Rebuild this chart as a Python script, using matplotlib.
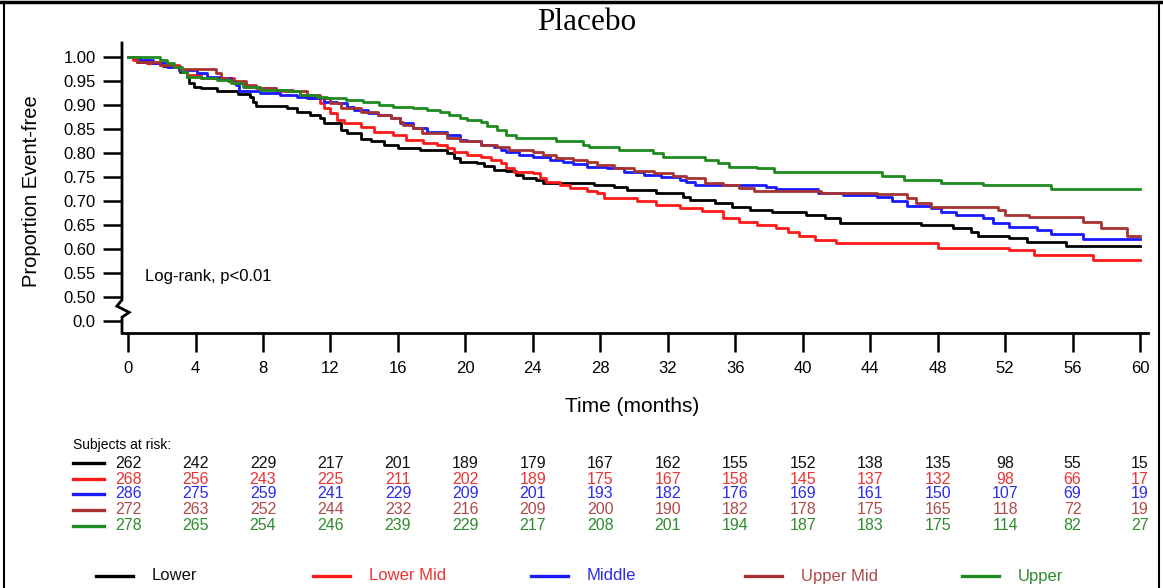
import numpy as np
import matplotlib
matplotlib.use("Agg")
import matplotlib.pyplot as plt
from matplotlib.lines import Line2D
import matplotlib.transforms as mtransforms

plt.rcParams['font.family'] = ['Liberation Sans', 'DejaVu Sans']

# Kaplan-Meier curves (time in months, proportion event-free)
lower_t = [0, 0.5, 1.1, 2.1, 3.1, 3.5, 3.6, 3.9, 4.3, 5.3, 6.5, 7.2, 7.4, 7.6, 9.4, 10.0, 10.8,
           11.4, 11.6, 12.6, 13.0, 13.8, 14.4, 15.2, 16.0, 17.3, 18.9, 19.3, 19.7, 20.7, 21.1,
           21.7, 22.4, 23.0, 23.4, 24.2, 24.6, 27.6, 28.8, 29.6, 31.3, 32.9, 33.3, 34.8, 35.8,
           36.9, 38.2, 40.2, 41.3, 42.2, 47.0, 48.9, 50.0, 50.4, 52.2, 53.3, 55.6, 60]
lower_s = [1.0, 0.99, 0.987, 0.982, 0.969, 0.958, 0.945, 0.938, 0.935, 0.928, 0.922, 0.917,
           0.907, 0.898, 0.893, 0.886, 0.879, 0.872, 0.862, 0.848, 0.841, 0.83, 0.824, 0.817,
           0.81, 0.806, 0.80, 0.789, 0.782, 0.779, 0.772, 0.765, 0.762, 0.754, 0.748, 0.744,
           0.738, 0.733, 0.729, 0.723, 0.716, 0.709, 0.702, 0.695, 0.688, 0.681, 0.676, 0.671,
           0.664, 0.655, 0.65, 0.643, 0.636, 0.626, 0.622, 0.615, 0.607, 0.607]

lowmid_t = [0, 0.3, 1.1, 1.9, 3.0, 3.5, 4.3, 6.3, 7.0, 7.8, 8.8, 10.2, 10.8, 11.4, 11.6, 12.0,
            12.4, 12.8, 13.8, 14.6, 15.7, 16.5, 17.5, 18.3, 18.9, 19.3, 20.1, 20.9, 21.5, 22.1,
            22.4, 22.9, 24.0, 24.4, 24.8, 25.6, 26.2, 27.2, 27.8, 28.2, 30.2, 31.3, 32.7, 34.0,
            35.3, 36.2, 37.3, 38.4, 39.1, 39.8, 40.7, 42.0, 48.0, 52.2, 53.7, 57.2, 60]
lowmid_s = [1.0, 0.994, 0.988, 0.983, 0.973, 0.963, 0.956, 0.945, 0.938, 0.935, 0.928, 0.921,
            0.914, 0.904, 0.893, 0.883, 0.869, 0.862, 0.855, 0.844, 0.838, 0.827, 0.821, 0.817,
            0.81, 0.803, 0.796, 0.792, 0.785, 0.779, 0.768, 0.761, 0.758, 0.747, 0.74, 0.733,
            0.726, 0.721, 0.716, 0.706, 0.699, 0.692, 0.685, 0.68, 0.664, 0.657, 0.65, 0.643,
            0.636, 0.626, 0.619, 0.612, 0.601, 0.598, 0.587, 0.577, 0.577]

middle_t = [0, 0.7, 1.5, 2.3, 3.0, 4.1, 4.7, 5.5, 6.1, 6.4, 6.6, 7.8, 9.0, 10.0, 10.6, 11.6,
            12.4, 13.0, 13.4, 14.2, 14.8, 15.6, 16.1, 16.9, 17.7, 18.9, 19.7, 20.1, 20.9, 21.7,
            22.1, 22.4, 23.2, 24.0, 25.0, 25.8, 26.4, 27.2, 28.4, 29.4, 30.6, 31.6, 32.7, 33.1,
            33.6, 37.8, 38.4, 40.9, 42.4, 44.4, 45.3, 46.2, 47.6, 48.2, 49.1, 50.7, 51.3, 52.2,
            53.9, 54.7, 56.6, 60]
middle_s = [1.0, 0.994, 0.987, 0.98, 0.973, 0.966, 0.959, 0.956, 0.949, 0.942, 0.928, 0.924,
            0.921, 0.917, 0.914, 0.907, 0.904, 0.896, 0.89, 0.883, 0.879, 0.872, 0.862, 0.851,
            0.844, 0.838, 0.827, 0.824, 0.817, 0.812, 0.806, 0.803, 0.796, 0.792, 0.785, 0.782,
            0.777, 0.771, 0.768, 0.761, 0.754, 0.75, 0.744, 0.74, 0.733, 0.73, 0.725, 0.717,
            0.7125, 0.708, 0.699, 0.69, 0.685, 0.678, 0.671, 0.664, 0.655, 0.646, 0.64, 0.631,
            0.62, 0.62]

upmid_t = [0, 0.5, 1.9, 2.7, 3.1, 5.2, 5.5, 5.9, 7.0, 7.6, 8.8, 9.8, 10.6, 11.4, 12.0, 12.6,
           13.8, 14.8, 15.6, 16.1, 16.3, 16.9, 17.4, 18.9, 19.7, 20.9, 21.9, 22.6, 24.0, 24.6,
           25.4, 26.4, 27.2, 27.8, 28.8, 30.0, 31.2, 32.3, 33.1, 34.2, 35.3, 36.2, 37.1, 41.1,
           44.4, 46.2, 46.7, 47.6, 51.6, 52.0, 53.4, 56.6, 57.7, 59.2, 60]
upmid_s = [1.0, 0.99, 0.983, 0.98, 0.975, 0.966, 0.956, 0.949, 0.942, 0.935, 0.931, 0.928,
           0.921, 0.914, 0.904, 0.893, 0.886, 0.879, 0.872, 0.865, 0.858, 0.851, 0.841, 0.831,
           0.824, 0.817, 0.812, 0.806, 0.803, 0.796, 0.789, 0.785, 0.782, 0.775, 0.768, 0.763,
           0.758, 0.752, 0.747, 0.738, 0.733, 0.726, 0.721, 0.716, 0.714, 0.706, 0.695, 0.688,
           0.681, 0.671, 0.667, 0.657, 0.643, 0.626, 0.626]

upper_t = [0, 1.9, 2.3, 2.7, 3.2, 3.5, 4.3, 5.3, 6.1, 6.8, 7.8, 9.4, 10.2, 11.2, 11.8, 12.9,
           13.9, 14.9, 15.7, 16.9, 17.7, 18.5, 19.0, 19.7, 20.1, 20.9, 21.3, 21.9, 22.4, 23.0,
           25.4, 27.0, 27.3, 29.1, 31.1, 31.7, 34.2, 35.0, 35.6, 37.3, 38.3, 44.7, 46.0, 48.2,
           50.7, 54.7, 60]
upper_s = [1.0, 0.994, 0.987, 0.98, 0.969, 0.959, 0.956, 0.952, 0.945, 0.938, 0.931, 0.928,
           0.921, 0.917, 0.914, 0.91, 0.907, 0.90, 0.896, 0.893, 0.89, 0.886, 0.879, 0.872,
           0.869, 0.865, 0.856, 0.848, 0.838, 0.831, 0.824, 0.817, 0.812, 0.806, 0.80, 0.792,
           0.785, 0.779, 0.771, 0.768, 0.76, 0.751, 0.744, 0.737, 0.733, 0.725, 0.725]

groups = ['Lower', 'Lower Mid', 'Middle', 'Upper Mid', 'Upper']
colors = ['#000000', '#ff1a1a', '#1a1aff', '#a83232', '#1f8a1f']
text_colors = ['#111111', '#e83535', '#2b2bee', '#b04a4a', '#2e8b2e']

risk_times = [0, 4, 8, 12, 16, 20, 24, 28, 32, 36, 40, 44, 48, 52, 56, 60]
at_risk_lower = [262, 242, 229, 217, 201, 189, 179, 167, 162, 155, 152, 138, 135, 98, 55, 15]
at_risk_lowmid = [268, 256, 243, 225, 211, 202, 189, 175, 167, 158, 145, 137, 132, 98, 66, 17]
at_risk_middle = [286, 275, 259, 241, 229, 209, 201, 193, 182, 176, 169, 161, 150, 107, 69, 19]
at_risk_upmid = [272, 263, 252, 244, 232, 216, 209, 200, 190, 182, 178, 175, 165, 118, 72, 19]
at_risk_upper = [278, 265, 254, 246, 239, 229, 217, 208, 201, 194, 187, 183, 175, 114, 82, 27]

curves = [(lower_t, lower_s), (lowmid_t, lowmid_s), (middle_t, middle_s),
          (upmid_t, upmid_s), (upper_t, upper_s)]
at_risk = [at_risk_lower, at_risk_lowmid, at_risk_middle, at_risk_upmid, at_risk_upper]

W, H = 1163, 588
fig = plt.figure(figsize=(W / 100, H / 100), dpi=100)
ax = fig.add_axes([122 / W, 1 - 333 / H, (1148 - 122) / W, (333 - 43) / H])

for (t, s), c in zip(curves, colors):
    ax.plot(t, s, drawstyle='steps-post', color=c, lw=2.0)

ax.set_xlim(-0.36, 60.47)
ax.set_ylim(0.425, 1.029)
ax.set_xticks(risk_times)
ax.set_xticklabels([str(v) for v in risk_times], fontsize=12)
yt = [1.0, 0.95, 0.90, 0.85, 0.80, 0.75, 0.70, 0.65, 0.60, 0.55, 0.50, 0.45]
ax.set_yticks(yt)
ax.set_yticklabels(['%.2f' % v for v in yt[:-1]] + ['0.0'], fontsize=12)
ax.tick_params(axis='both', direction='out', length=14, width=1.8, colors='black')
ax.tick_params(axis='y', pad=5)
ax.tick_params(axis='x', pad=6)

for side in ['top', 'right', 'left']:
    ax.spines[side].set_visible(False)
ax.spines['bottom'].set_linewidth(2.0)

# left axis with a break between 0.50 and 0.0
ytr = ax.get_yaxis_transform()
ax.plot([0, 0, -0.005, 0.007, 0, 0], [1.029, 0.494, 0.481, 0.468, 0.458, 0.425],
        color='black', lw=2.0, transform=ytr, clip_on=False, solid_joinstyle='miter')

ax.text(1.0, 0.542, 'Log-rank, p<0.01', fontsize=12, va='center', ha='left')

fig.text(32 / W, 1 - 191 / H, 'Proportion Event-free', rotation=90, fontsize=14.5,
         ha='center', va='center')
fig.text(632 / W, 1 - 407 / H, 'Time (months)', fontsize=15, ha='center', va='center')
fig.text(587 / W, 1 - 22 / H, 'Placebo', fontsize=22.5, family='Liberation Serif',
         ha='center', va='center')

# number at risk table
fig.text(73 / W, 1 - 445 / H, 'Subjects at risk:', fontsize=10, ha='left', va='center')
tr = mtransforms.blended_transform_factory(ax.transData, fig.transFigure)
row_y = [463, 479, 494, 510, 526]
for counts, c, tc, yy in zip(at_risk, colors, text_colors, row_y):
    yf = 1 - yy / H
    fig.add_artist(Line2D([73 / W, 104 / W], [yf, yf], color=c, lw=2.4))
    for tm, n in zip(risk_times, counts):
        ax.text(tm, yf, str(n), transform=tr, fontsize=11.5, color=tc,
                ha='center', va='center', clip_on=False)

# legend row at the bottom
leg_line_x = [96, 313, 531, 745, 962]
leg_y = 1 - 576 / H
for g, c, tc, x0 in zip(groups, colors, text_colors, leg_line_x):
    fig.add_artist(Line2D([x0 / W, (x0 + 37) / W], [leg_y, leg_y], color=c, lw=2.4))
    fig.text((x0 + 56) / W, leg_y, g, fontsize=12, color=tc, ha='left', va='center')

# page frame
fig.add_artist(Line2D([4 / W, 4 / W], [0, 1 - 2 / H], color='black', lw=1.5))
fig.add_artist(Line2D([1159 / W, 1159 / W], [0, 1 - 2 / H], color='black', lw=1.5))
fig.add_artist(Line2D([0, 1], [1 - 2 / H, 1 - 2 / H], color='black', lw=2.5))

fig.savefig('out.png', dpi=100)
